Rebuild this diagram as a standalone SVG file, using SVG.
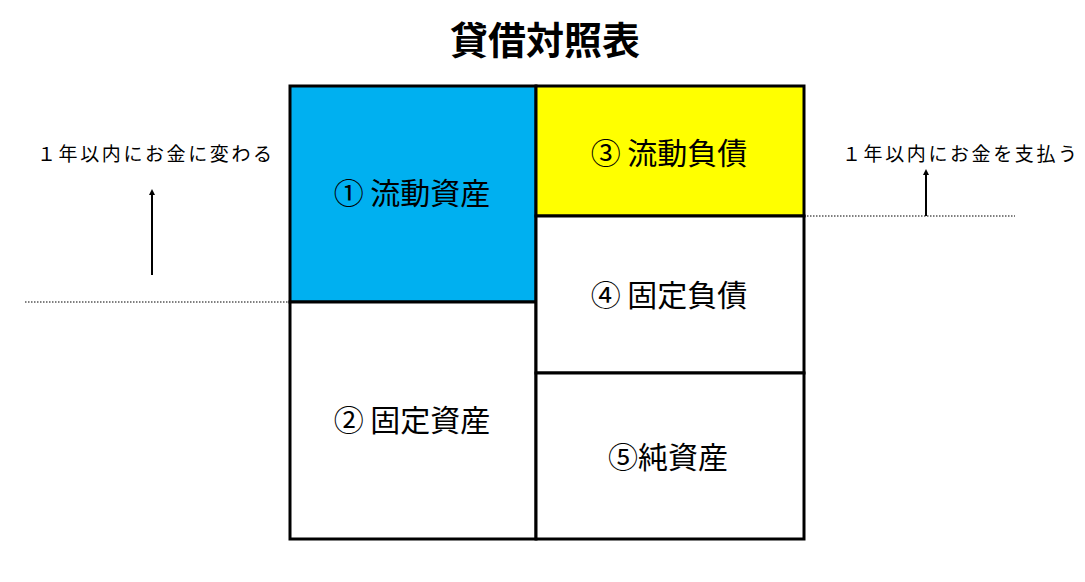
<svg xmlns="http://www.w3.org/2000/svg" width="1085" height="582" viewBox="0 0 1085 582">
<defs>
<style>
.cell{stroke:#000;stroke-width:3}
.lbl{font-family:"Noto Sans CJK JP","Noto Sans",sans-serif;font-size:30px;fill:#000;text-anchor:middle;dominant-baseline:central}
.side{font-family:"Noto Sans CJK JP",sans-serif;font-size:19px;fill:#000;letter-spacing:2.6px}
.dot{stroke:#000;stroke-width:1;stroke-dasharray:1.5 1.5;fill:none}
.arr{stroke:#000;stroke-width:2;fill:none;marker-end:url(#ah)}
</style>
<marker id="ah" markerWidth="6" markerHeight="6" refX="3" refY="3" orient="auto" markerUnits="userSpaceOnUse">
<path d="M0,0 L6,3 L0,6 z" fill="#000"/>
</marker>
</defs>
<rect width="1085" height="582" fill="#fff"/>
<text x="545" y="37" font-family="'Noto Sans CJK JP',sans-serif" font-size="38" font-weight="bold" text-anchor="middle" dominant-baseline="central">貸借対照表</text>
<g id="connectors">
<line class="dot" x1="25" y1="302" x2="290" y2="302"/>
<line class="dot" x1="804" y1="216" x2="1015" y2="216"/>
<line class="arr" x1="152" y1="275" x2="152" y2="192"/>
<line class="arr" x1="926" y1="216" x2="926" y2="172"/>
</g>
<g id="note-left"><text class="side" x="37" y="161">１年以内にお金に変わる</text></g>
<g id="note-right"><text class="side" x="842" y="161">１年以内にお金を支払う</text></g>
<g id="n1"><rect class="cell" x="290" y="86" width="246" height="216" fill="#00B0F0"/><text class="lbl" x="412" y="191">① 流動資産</text></g>
<g id="n2"><rect class="cell" x="290" y="302" width="246" height="237" fill="#fff"/><text class="lbl" x="412" y="418">② 固定資産</text></g>
<g id="n3"><rect class="cell" x="536" y="86" width="268" height="130" fill="#FFFF00"/><text class="lbl" x="669" y="151">③ 流動負債</text></g>
<g id="n4"><rect class="cell" x="536" y="216" width="268" height="157" fill="#fff"/><text class="lbl" x="669" y="293">④ 固定負債</text></g>
<g id="n5"><rect class="cell" x="536" y="373" width="268" height="166" fill="#fff"/><text class="lbl" x="668" y="455">⑤純資産</text></g>
</svg>
